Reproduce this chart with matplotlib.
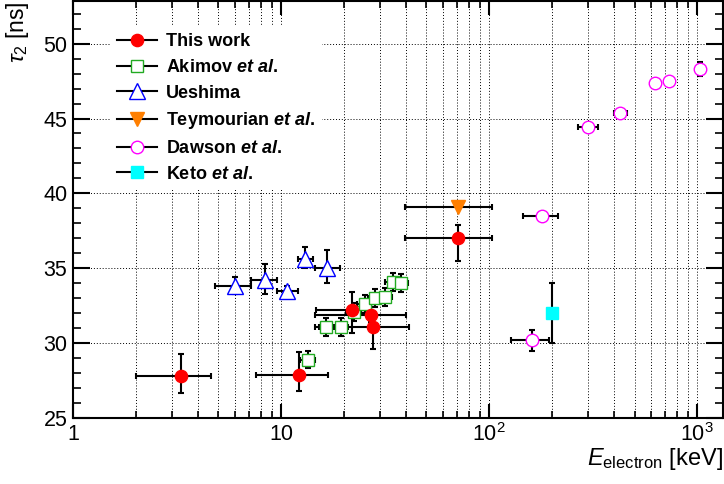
import numpy as np
import matplotlib
matplotlib.use("Agg")
import matplotlib.pyplot as plt
from matplotlib.lines import Line2D
from matplotlib.ticker import FixedLocator, FixedFormatter, MultipleLocator, NullFormatter

plt.rcParams["font.family"] = "Liberation Sans"
plt.rcParams["mathtext.fontset"] = "custom"
plt.rcParams["mathtext.rm"] = "Liberation Sans"
plt.rcParams["mathtext.it"] = "Liberation Sans:italic"
plt.rcParams["mathtext.bf"] = "Liberation Sans:bold"
plt.rcParams["mathtext.bfit"] = "Liberation Sans:bold:italic"

# ---------- data ----------
# This work
tw_E = np.array([3.3, 12.2, 21.9, 27.2, 27.8, 71.2])
tw_tau = np.array([27.8, 27.9, 32.2, 31.9, 31.1, 37.0])
tw_E_lo = np.array([2.0, 7.6, 14.7, 14.6, 14.6, 39.5])
tw_E_hi = np.array([4.6, 16.8, 27.0, 39.7, 41.1, 103.7])
tw_tau_lo = np.array([26.7, 26.8, 30.7, 31.4, 29.6, 35.5])
tw_tau_hi = np.array([29.3, 29.4, 33.4, 32.4, 32.0, 37.9])

# Akimov et al.
ak_E = np.array([13.4, 16.5, 19.4, 22.4, 25.2, 28.3, 31.6, 34.4, 37.6])
ak_tau = np.array([28.9, 31.1, 31.1, 32.1, 32.6, 33.0, 33.1, 34.1, 34.0])
ak_Eerr = np.array([1.1, 1.3, 1.5, 1.8, 2.0, 2.2, 2.5, 2.7, 3.0])
ak_tauerr = np.array([0.55, 0.6, 0.6, 0.6, 0.6, 0.6, 0.6, 0.6, 0.6])

# Ueshima
ue_E = np.array([6.0, 8.4, 10.7, 13.1, 16.7])
ue_tau = np.array([33.8, 34.2, 33.5, 35.6, 35.0])
ue_E_lo = np.array([4.8, 7.2, 9.6, 12.1, 14.6])
ue_E_hi = np.array([7.2, 9.6, 12.0, 14.2, 19.2])
ue_tau_lo = np.array([33.3, 33.3, 33.2, 35.0, 34.0])
ue_tau_hi = np.array([34.4, 35.3, 33.8, 36.4, 36.2])

# Teymourian et al.
te_E = np.array([71.2])
te_tau = np.array([39.1])
te_E_lo = np.array([39.5])
te_E_hi = np.array([103.7])

# Dawson et al.
da_E = np.array([160, 180, 300, 427, 628, 728, 1034])
da_tau = np.array([30.2, 38.5, 44.4, 45.4, 47.4, 47.5, 48.3])
da_E_lo = np.array([128, 146, 267, 397, 628, 728, 1034])
da_E_hi = np.array([194, 214, 335, 459, 628, 728, 1034])
da_tauerr = np.array([0.7, 0.0, 0.0, 0.0, 0.0, 0.0, 0.45])

# Keto et al.
ke_E = np.array([200])
ke_tau = np.array([32.0])
ke_tauerr = np.array([2.0])

x_ticks = [1, 10, 100, 1000]
x_ticklabels = ["1", "10", "$10^{2}$", "$10^{3}$"]

labels = ["This work", "Akimov $\\mathbfit{et\\ al}$.", "Ueshima",
          "Teymourian $\\mathbfit{et\\ al}$.", "Dawson $\\mathbfit{et\\ al}$.",
          "Keto $\\mathbfit{et\\ al}$."]

fig = plt.figure(figsize=(7.24, 4.84), dpi=100)
ax = fig.add_axes([0.1008, 0.1364, 0.8978, 0.8616])

eb = dict(fmt="none", ecolor="black", elinewidth=1.5, capsize=2.2, capthick=1.5, zorder=2)

ax.errorbar(ak_E, ak_tau, xerr=ak_Eerr, yerr=ak_tauerr, **eb)
ax.errorbar(ue_E, ue_tau, xerr=[ue_E - ue_E_lo, ue_E_hi - ue_E],
            yerr=[ue_tau - ue_tau_lo, ue_tau_hi - ue_tau], **eb)
ax.errorbar(te_E, te_tau, xerr=[te_E - te_E_lo, te_E_hi - te_E], **eb)
ax.errorbar(da_E, da_tau, xerr=[da_E - da_E_lo, da_E_hi - da_E], yerr=da_tauerr, **eb)
ax.errorbar(ke_E, ke_tau, yerr=ke_tauerr, **eb)
ax.errorbar(tw_E, tw_tau, xerr=[tw_E - tw_E_lo, tw_E_hi - tw_E],
            yerr=[tw_tau - tw_tau_lo, tw_tau_hi - tw_tau], **eb)

# open markers get a white face so the bars stop at the marker edge, like ROOT
styles = [
    dict(marker="o", ms=8.8, mfc="#ff0000", mec="#ff0000", mew=1.0),
    dict(marker="s", ms=8.0, mfc="white", mec="#22aa22", mew=1.0),
    dict(marker="^", ms=11.0, mfc="white", mec="#0000ff", mew=1.0),
    dict(marker="v", ms=10.0, mfc="#ff7f00", mec="#ff7f00", mew=1.0),
    dict(marker="o", ms=9.0, mfc="white", mec="#ff00ff", mew=1.0),
    dict(marker="s", ms=8.4, mfc="#00ffff", mec="#00ffff", mew=1.0),
]

series = [(tw_E, tw_tau), (ak_E, ak_tau), (ue_E, ue_tau),
          (te_E, te_tau), (da_E, da_tau), (ke_E, ke_tau)]
for i in [1, 2, 3, 4, 5, 0]:
    x, y = series[i]
    ax.plot(x, y, ls="none", zorder=4 if i == 0 else 3, **styles[i])

ax.set_xscale("log")
ax.set_xlim(1, 1330)
ax.set_ylim(25, 52.85)

ax.xaxis.set_major_locator(FixedLocator(x_ticks))
ax.xaxis.set_major_formatter(FixedFormatter(x_ticklabels))
minors = [m * 10 ** d for d in range(0, 4) for m in range(2, 10)]
ax.xaxis.set_minor_locator(FixedLocator(minors))
ax.xaxis.set_minor_formatter(NullFormatter())
ax.yaxis.set_major_locator(MultipleLocator(5))
ax.yaxis.set_minor_locator(MultipleLocator(1))

ax.tick_params(which="both", direction="in", top=True, right=True, labelsize=15.5)
ax.tick_params(axis="x", which="major", length=10, width=1.5, pad=4)
ax.tick_params(axis="x", which="minor", length=5, width=1.2)
ax.tick_params(axis="y", which="major", length=12, width=1.5, pad=4)
ax.tick_params(axis="y", which="minor", length=6, width=1.2)
for s in ax.spines.values():
    s.set_linewidth(1.5)

ax.grid(which="major", axis="both", ls=(0, (1, 2)), color="black", lw=0.7)
ax.grid(which="minor", axis="x", ls=(0, (1, 2)), color="black", lw=0.7)
ax.set_axisbelow(True)

ax.set_xlabel("$E_{\\mathrm{electron}}$ [keV]", fontsize=17, loc="right")
ax.xaxis.set_label_coords(1.0, -0.068)
ax.set_ylabel("$\\tau_{2}$ [ns]", fontsize=16.5, loc="top")
ax.yaxis.set_label_coords(-0.064, 1.0)

handles = [Line2D([], [], color="black", lw=1.5, **st) for st in styles]
leg = ax.legend(handles, labels, loc="upper left", bbox_to_anchor=(0.152, 0.946),
                bbox_transform=fig.transFigure, prop={"weight": "bold", "size": 13},
                handlelength=2.2, handletextpad=0.5, labelspacing=0.48,
                borderpad=0.4, borderaxespad=0, fancybox=False, framealpha=1)
leg.get_frame().set_edgecolor("none")
leg.get_frame().set_facecolor("white")

fig.savefig("out.png", dpi=100)
